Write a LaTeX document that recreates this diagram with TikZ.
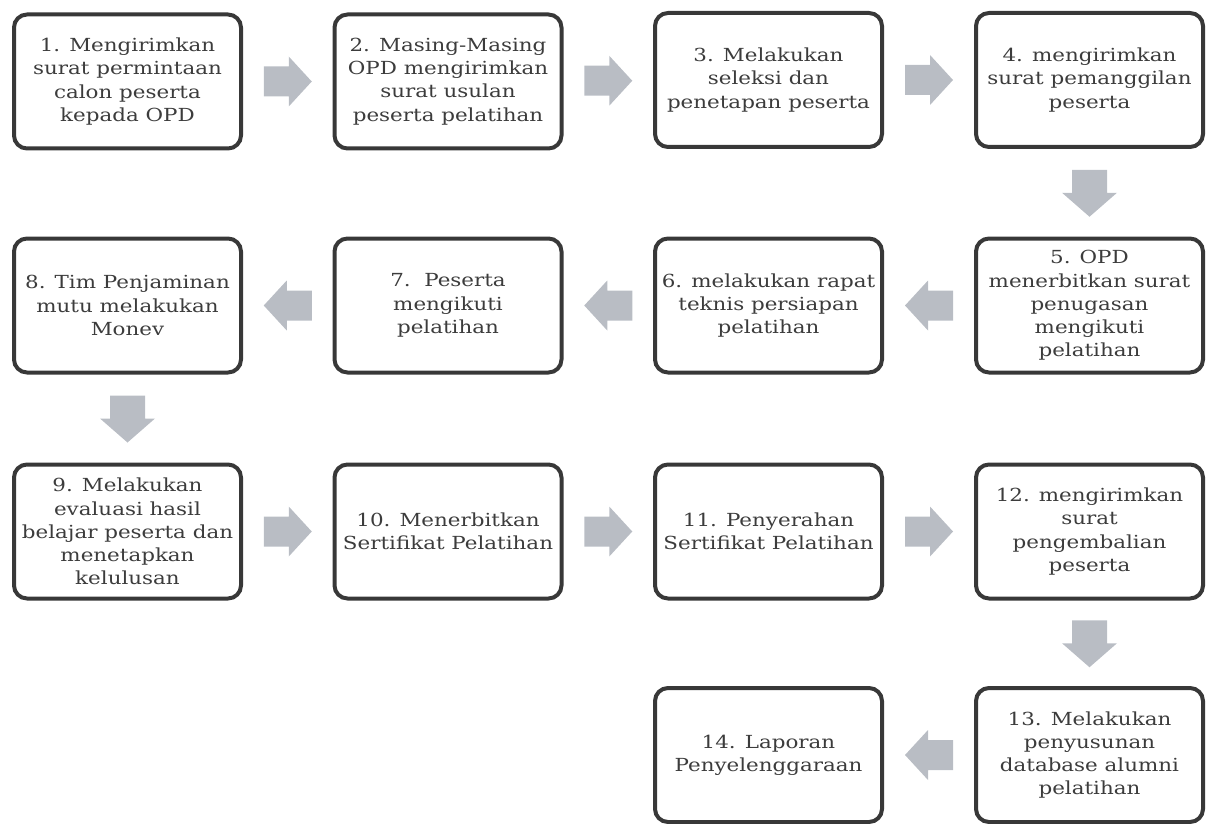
\documentclass[tikz,border=0pt]{standalone}
\usepackage{fontspec}
\setmainfont{DejaVu Serif}[FakeStretch=1.19]
\usetikzlibrary{calc}
\definecolor{boxline}{HTML}{383838}
\definecolor{txt}{HTML}{3C3C3C}
\definecolor{arr}{HTML}{B9BDC4}
\begin{document}
\begin{tikzpicture}[x=1pt,y=-1pt,
 stepbox/.style={draw=boxline, line width=4pt, rounded corners=13pt, minimum width=227pt, minimum height=134pt, align=center, text=txt, font=\fontsize{18}{23.2}\selectfont, inner sep=0pt},
 harrow/.pic={\fill[arr] (-24,-15) -- (1,-15) -- (1,-25) -- (24,0) -- (1,25) -- (1,15) -- (-24,15) -- cycle;},
 varrow/.pic={\fill[arr] (-23,-17.5) -- (0,-17.5) -- (0,-27.5) -- (24,0) -- (0,27.5) -- (0,17.5) -- (-23,17.5) -- cycle;},
]
\useasboundingbox (0,0) rectangle (1210,824);
% row 1
\node[stepbox] (b1) at (127.5,81.5) {1. Mengirimkan\\surat permintaan\\calon peserta\\kepada OPD};
\node[stepbox] (b2) at (448,81.5) {2. Masing-Masing\\OPD mengirimkan\\surat usulan\\peserta pelatihan};
\node[stepbox] (b3) at (768.5,80) {3. Melakukan\\seleksi dan\\penetapan peserta};
\node[stepbox] (b4) at (1089.5,80) {4. mengirimkan\\surat pemanggilan\\peserta};
% row 2
\node[stepbox] (b5) at (1089.5,305.5) {5. OPD\\menerbitkan surat\\penugasan\\mengikuti\\pelatihan};
\node[stepbox] (b6) at (768.5,305.5) {6. melakukan rapat\\teknis persiapan\\pelatihan};
\node[stepbox] (b7) at (448,305.5) {7.\ \ Peserta\\mengikuti\\pelatihan};
\node[stepbox] (b8) at (127.5,305.5) {8. Tim Penjaminan\\mutu melakukan\\Monev};
% row 3
\node[stepbox] (b9) at (127.5,531.5) {9. Melakukan\\evaluasi hasil\\belajar peserta dan\\menetapkan\\kelulusan};
\node[stepbox] (b10) at (448,531.5) {10. Menerbitkan\\Sertifikat Pelatihan};
\node[stepbox] (b11) at (768.5,531.5) {11. Penyerahan\\Sertifikat Pelatihan};
\node[stepbox] (b12) at (1089.5,531.5) {12. mengirimkan\\surat\\pengembalian\\peserta};
% row 4
\node[stepbox] (b13) at (1089.5,755) {13. Melakukan\\penyusunan\\database alumni\\pelatihan};
\node[stepbox] (b14) at (768.5,755) {14. Laporan\\Penyelenggaraan};
% arrows
\pic at ($(b1.east)!0.5!(b2.west)$) {harrow};
\pic at ($(b2.east)!0.5!(b3.west)$) {harrow};
\pic at ($(b3.east)!0.5!(b4.west)$) {harrow};
\pic[rotate=-90] at ($(b4.south)!0.5!(b5.north)$) {varrow};
\pic[rotate=180] at ($(b5.west)!0.5!(b6.east)$) {harrow};
\pic[rotate=180] at ($(b6.west)!0.5!(b7.east)$) {harrow};
\pic[rotate=180] at ($(b7.west)!0.5!(b8.east)$) {harrow};
\pic[rotate=-90] at ($(b8.south)!0.5!(b9.north)$) {varrow};
\pic at ($(b9.east)!0.5!(b10.west)$) {harrow};
\pic at ($(b10.east)!0.5!(b11.west)$) {harrow};
\pic at ($(b11.east)!0.5!(b12.west)$) {harrow};
\pic[rotate=-90] at ($(b12.south)!0.5!(b13.north)$) {varrow};
\pic[rotate=180] at ($(b13.west)!0.5!(b14.east)$) {harrow};
\end{tikzpicture}
\end{document}
